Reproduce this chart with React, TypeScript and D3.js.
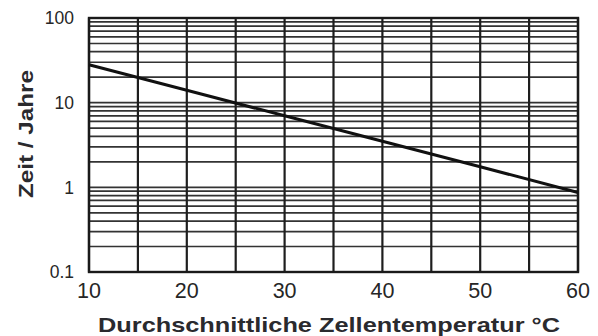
import React from "react";
import * as d3 from "d3";

// Lebensdauer über Temperatur (halbiert sich etwa alle 10 °C)
const temps = [10, 20, 30, 40, 50, 60];
const years = [28, 14, 7, 3.5, 1.75, 0.87];
const xTickLabels = ["10", "20", "30", "40", "50", "60"];
const yTickLabels = ["0.1", "1", "10", "100"];

const W = 598;
const H = 336;
const left = 89, right = 578, top = 18, bottom = 272;

export default function App() {
  const x = d3.scaleLinear().domain([10, 60]).range([left, right]);
  const y = d3.scaleLog().domain([0.1, 100]).range([bottom, top]);

  const vLines = d3.range(10, 61, 5);
  const hLines = y.ticks();

  const line = d3
    .line<number>()
    .x((d, i) => x(temps[i]))
    .y((d) => y(d));

  const font = "'Liberation Sans', Arial, sans-serif";

  return (
    <svg
      width={W}
      height={H}
      style={{ position: "absolute", left: 0, top: 0, background: "#fff" }}
    >
      {hLines.map((v, i) => (
        <line
          key={"h" + i}
          x1={left}
          x2={right}
          y1={y(v)}
          y2={y(v)}
          stroke="#333"
          strokeWidth={1.7}
        />
      ))}
      {vLines.map((v, i) => (
        <line
          key={"v" + i}
          x1={x(v)}
          x2={x(v)}
          y1={top}
          y2={bottom}
          stroke="#1e1e1e"
          strokeWidth={2.2}
        />
      ))}
      <rect
        x={left}
        y={top}
        width={right - left}
        height={bottom - top}
        fill="none"
        stroke="#1a1a1a"
        strokeWidth={2.4}
      />
      <path d={line(years) || ""} fill="none" stroke="#111" strokeWidth={3} />

      {yTickLabels.map((t) => (
        <text
          key={t}
          x={74}
          y={y(+t)}
          dy="0.36em"
          textAnchor="end"
          fontFamily={font}
          fontSize={17.5}
          fill="#262626"
        >
          {t}
        </text>
      ))}
      {xTickLabels.map((t) => (
        <text
          key={t}
          x={x(+t)}
          y={298}
          textAnchor="middle"
          fontFamily={font}
          fontSize={21.5}
          fill="#262626"
        >
          {t}
        </text>
      ))}
      <text
        x={98}
        y={332}
        fontFamily={font}
        fontWeight="bold"
        fontSize={20.5}
        fill="#2a2a2e"
        textLength={462}
        lengthAdjust="spacingAndGlyphs"
      >
        Durchschnittliche Zellentemperatur °C
      </text>
      <text
        transform="translate(33,134) rotate(-90)"
        textAnchor="middle"
        fontFamily={font}
        fontWeight="bold"
        fontSize={21}
        fill="#2a2a2e"
        textLength={128}
        lengthAdjust="spacingAndGlyphs"
      >
        Zeit / Jahre
      </text>
    </svg>
  );
}
